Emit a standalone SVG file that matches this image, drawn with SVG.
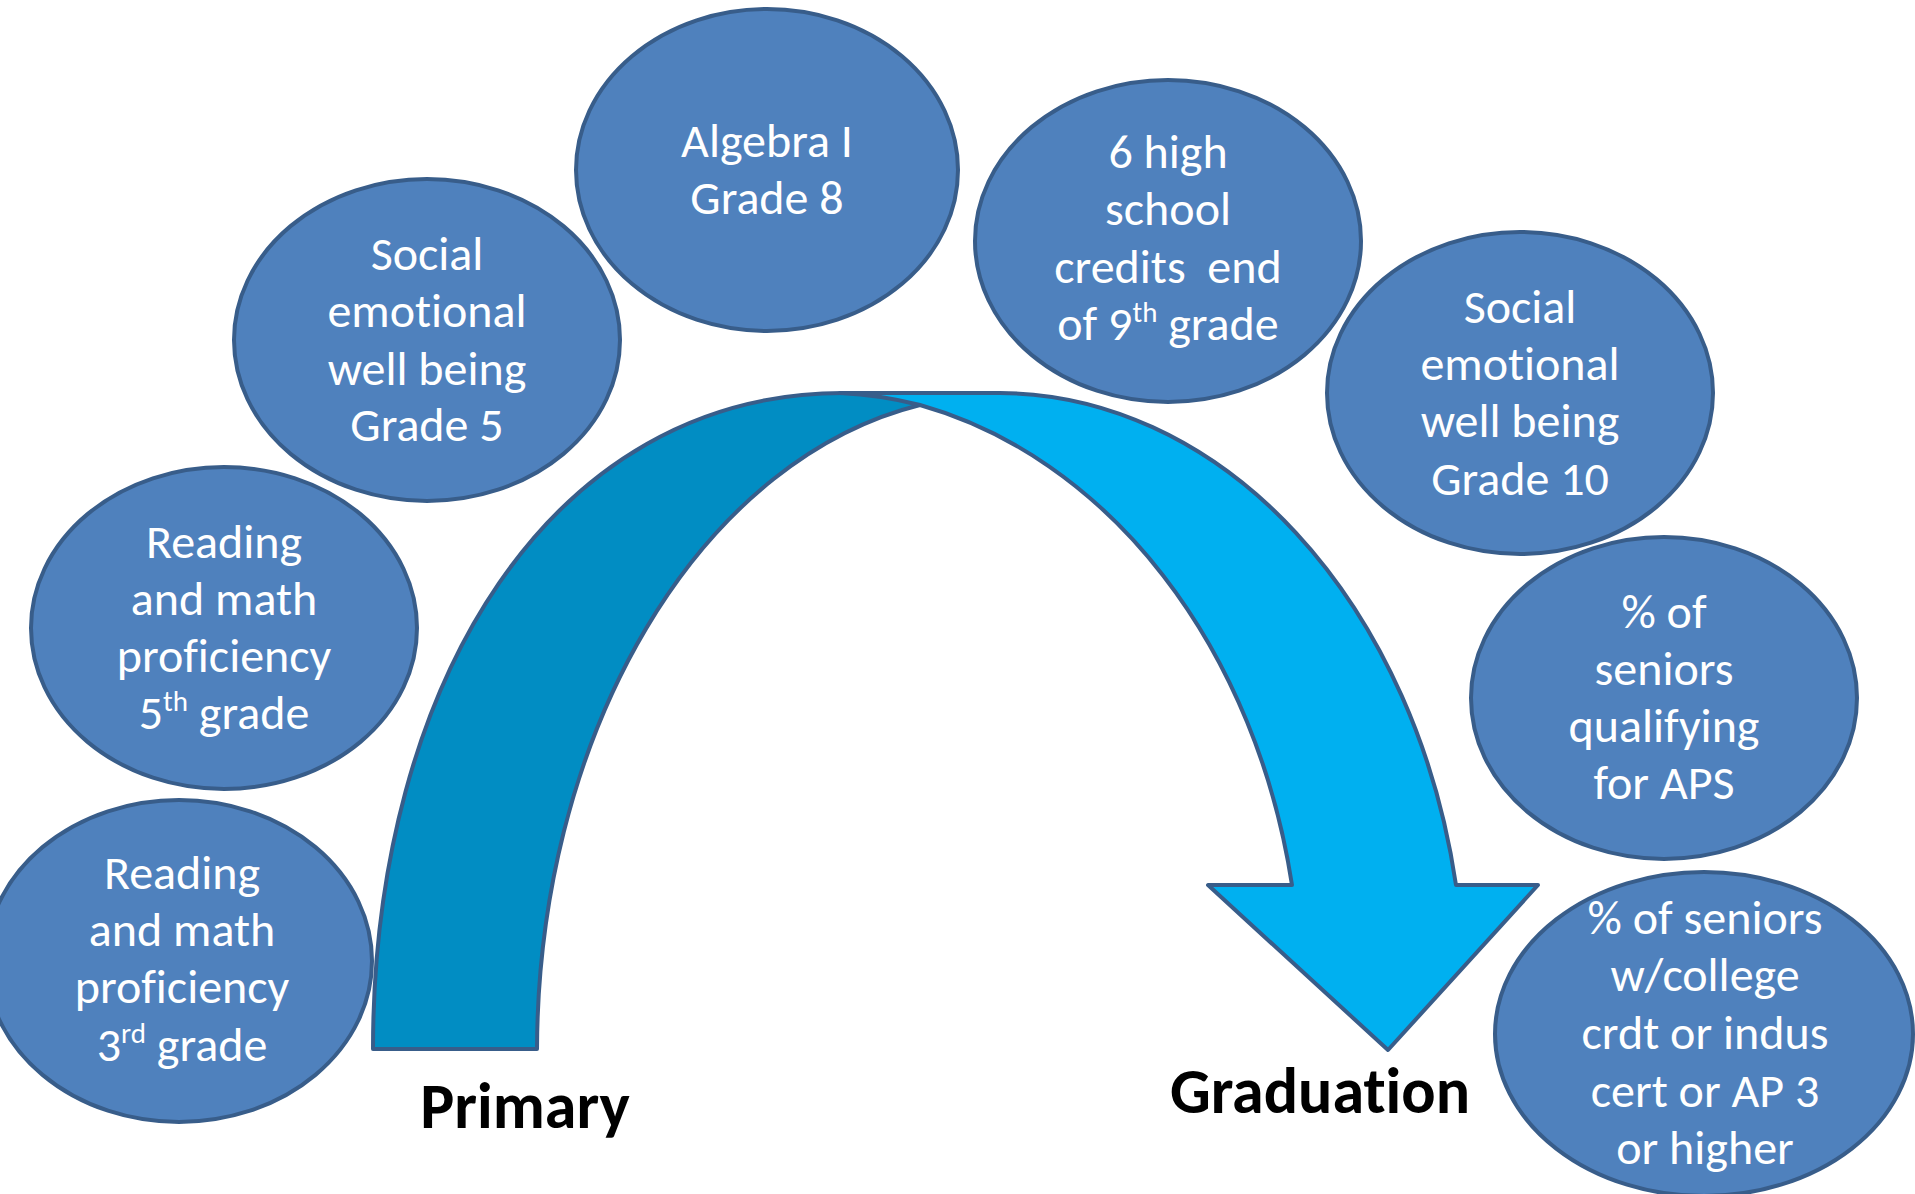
<svg xmlns="http://www.w3.org/2000/svg" width="1915" height="1194" viewBox="0 0 1915 1194">
<style>
.node ellipse{fill:#4F81BD;stroke:#385D8A;stroke-width:4}
.node text{fill:#FFFFFF;font-family:Calibri,Carlito,Lato,"Open Sans",sans-serif;font-size:48px;text-anchor:middle;font-variant-ligatures:none}
.lbl{fill:#000000;font-family:Calibri,Carlito,Lato,"Open Sans",sans-serif;font-weight:bold;font-size:64px;text-anchor:middle;font-variant-ligatures:none}
.arc{stroke:#385D8A;stroke-width:4;stroke-linejoin:round}
</style>
<rect width="1915" height="1194" fill="#FFFFFF"/>
<g id="connectors">
<path class="arc" fill="#018DC3" d="M373,1049 C373,682 552,393 843,393 L920,393 L920,405 A463,657 0 0 0 537,1049 Z"/>
<path class="arc" fill="#00B0F0" d="M840,393 L1000,393 A466,607 0 0 1 1456,885 L1538,885 L1388,1050 L1208,885 L1292,885 A488,610 0 0 0 920,405 A488,610 0 0 0 840,393 Z"/>
</g>
<g id="node-reading3" class="node">
<ellipse cx="179" cy="961" rx="193" ry="161"/>
<text x="182" y="889">Reading</text>
<text x="182" y="946">and math</text>
<text x="182" y="1003">proficiency</text>
<text x="182" y="1061">3<tspan font-size="29" dy="-18">rd</tspan><tspan dy="18"> grade</tspan></text>
</g>
<g id="node-reading5" class="node">
<ellipse cx="224" cy="628" rx="193" ry="161"/>
<text x="224" y="558">Reading</text>
<text x="224" y="615">and math</text>
<text x="224" y="672">proficiency</text>
<text x="224" y="729">5<tspan font-size="29" dy="-18">th</tspan><tspan dy="18"> grade</tspan></text>
</g>
<g id="node-social5" class="node">
<ellipse cx="427" cy="340" rx="193" ry="161"/>
<text x="427" y="270">Social</text>
<text x="427" y="327">emotional</text>
<text x="427" y="385">well being</text>
<text x="427" y="441">Grade 5</text>
</g>
<g id="node-algebra" class="node">
<ellipse cx="767" cy="170" rx="191" ry="161"/>
<text x="767" y="157">Algebra I</text>
<text x="767" y="214">Grade 8</text>
</g>
<g id="node-credits" class="node">
<ellipse cx="1168" cy="241" rx="193" ry="161"/>
<text x="1168" y="168">6 high</text>
<text x="1168" y="225">school</text>
<text x="1168" y="283" xml:space="preserve">credits  end</text>
<text x="1168" y="340">of 9<tspan font-size="29" dy="-18">th</tspan><tspan dy="18"> grade</tspan></text>
</g>
<g id="node-social10" class="node">
<ellipse cx="1520" cy="393" rx="193" ry="161"/>
<text x="1520" y="323">Social</text>
<text x="1520" y="380">emotional</text>
<text x="1520" y="437">well being</text>
<text x="1520" y="495">Grade 10</text>
</g>
<g id="node-aps" class="node">
<ellipse cx="1664" cy="698" rx="193" ry="161"/>
<text x="1664" y="628">% of</text>
<text x="1664" y="685">seniors</text>
<text x="1664" y="742">qualifying</text>
<text x="1664" y="799">for APS</text>
</g>
<g id="node-college" class="node">
<ellipse cx="1704" cy="1034" rx="209" ry="162"/>
<text x="1705" y="934">% of seniors</text>
<text x="1705" y="991">w/college</text>
<text x="1705" y="1049">crdt or indus</text>
<text x="1705" y="1107">cert or AP 3</text>
<text x="1705" y="1164">or higher</text>
</g>
<g id="label-primary"><text class="lbl" x="525" y="1128">Primary</text></g>
<g id="label-graduation"><text class="lbl" x="1320" y="1113">Graduation</text></g>
</svg>
